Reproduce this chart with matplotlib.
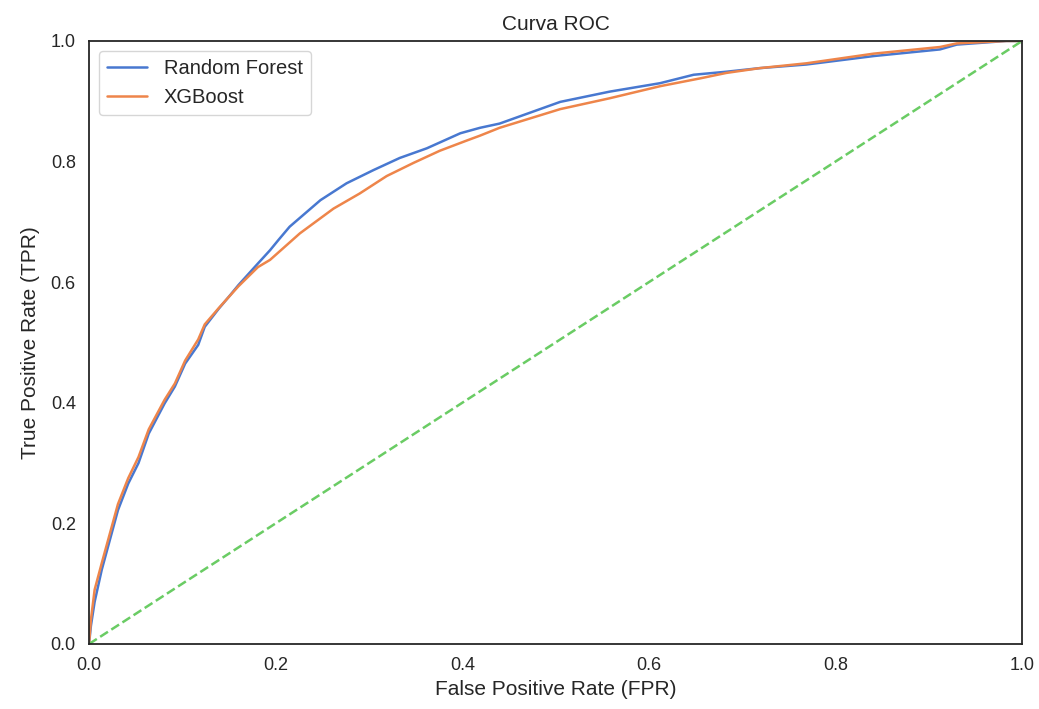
import matplotlib
matplotlib.use("Agg")
import matplotlib.pyplot as plt
import seaborn as sns

# ROC points
rf_fpr = [0.0, 0.002, 0.006, 0.0136, 0.031, 0.042, 0.053, 0.064, 0.081, 0.092, 0.103,
          0.117, 0.124, 0.139, 0.151, 0.160, 0.181, 0.194, 0.203, 0.215, 0.248, 0.276,
          0.305, 0.333, 0.362, 0.398, 0.419, 0.44, 0.505, 0.558, 0.612, 0.648, 0.683,
          0.719, 0.769, 0.841, 0.912, 0.93, 0.983, 1.0]
rf_tpr = [0.0, 0.03, 0.07, 0.123, 0.222, 0.266, 0.30, 0.349, 0.399, 0.427, 0.465,
          0.496, 0.526, 0.556, 0.578, 0.595, 0.631, 0.653, 0.67, 0.692, 0.736, 0.764,
          0.786, 0.806, 0.822, 0.847, 0.856, 0.863, 0.899, 0.916, 0.93, 0.944, 0.949,
          0.955, 0.961, 0.975, 0.986, 0.994, 1.0, 1.0]

xgb_fpr = [0.0, 0.002, 0.006, 0.0136, 0.031, 0.042, 0.053, 0.064, 0.081, 0.092, 0.103,
           0.117, 0.124, 0.139, 0.160, 0.181, 0.194, 0.21, 0.226, 0.262, 0.29, 0.319,
           0.348, 0.376, 0.405, 0.419, 0.44, 0.505, 0.558, 0.612, 0.655, 0.683, 0.719,
           0.769, 0.841, 0.912, 0.93, 0.983, 1.0]
xgb_tpr = [0.0, 0.04, 0.09, 0.134, 0.232, 0.275, 0.31, 0.356, 0.405, 0.432, 0.47,
           0.505, 0.53, 0.557, 0.593, 0.625, 0.637, 0.659, 0.681, 0.722, 0.747, 0.776,
           0.798, 0.818, 0.835, 0.843, 0.856, 0.887, 0.905, 0.925, 0.938, 0.947, 0.955,
           0.963, 0.979, 0.99, 0.996, 1.0, 1.0]

diag = [0.0, 1.0]
ticks = [0.0, 0.2, 0.4, 0.6, 0.8, 1.0]

sns.set_theme(style="white", palette="muted")
plt.rcParams["font.family"] = ["Liberation Sans", "DejaVu Sans"]
colors = sns.color_palette("muted")

fig = plt.figure(figsize=(10.39, 7.09), dpi=100)
ax = fig.add_axes([0.0857, 0.0917, 0.898, 0.8505])

ax.plot(rf_fpr, rf_tpr, color=colors[0], lw=1.8, label="Random Forest")
ax.plot(xgb_fpr, xgb_tpr, color=colors[1], lw=1.8, label="XGBoost")
ax.plot(diag, diag, color=colors[2], lw=1.8, ls="--")

ax.set_xlim(0, 1)
ax.set_ylim(0, 1)
ax.set_xticks(ticks)
ax.set_yticks(ticks)
ax.tick_params(labelsize=13)
for sp in ax.spines.values():
    sp.set_linewidth(1.3)
    sp.set_color(".15")

ax.set_title("Curva ROC", fontsize=15, pad=8)
ax.set_xlabel("False Positive Rate (FPR)", fontsize=15, labelpad=4)
ax.set_ylabel("True Positive Rate (TPR)", fontsize=15, labelpad=8)
ax.legend(loc="upper left", fontsize=14.5)

fig.savefig("out.png", dpi=100)
